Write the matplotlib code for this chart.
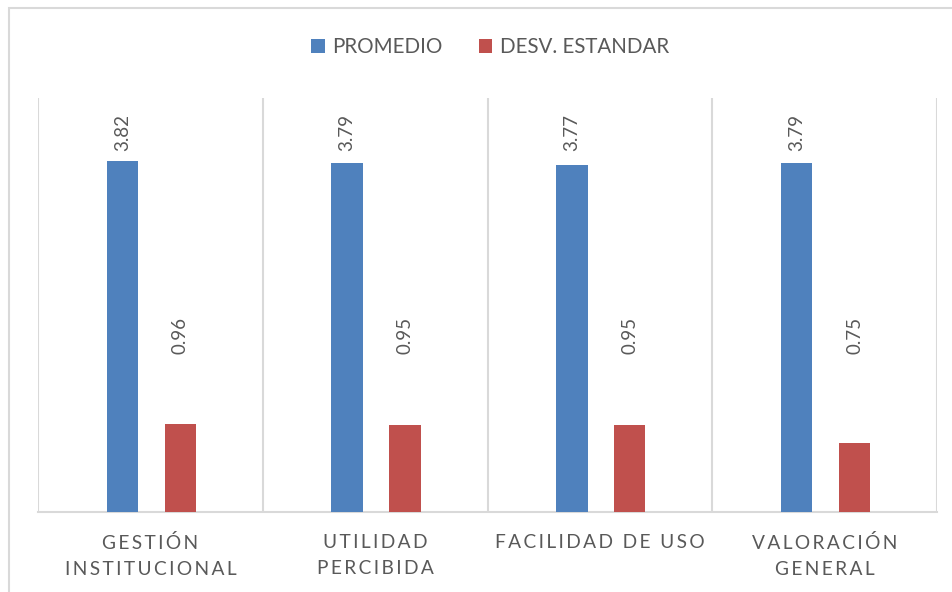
import matplotlib.pyplot as plt
import matplotlib.patches as mpatches
import numpy as np

plt.rcParams['font.family'] = ['Lato', 'DejaVu Sans']

# datos
categorias = ['GESTIÓN\nINSTITUCIONAL', 'UTILIDAD\nPERCIBIDA', 'FACILIDAD DE USO', 'VALORACIÓN\nGENERAL']
promedio = [3.82, 3.79, 3.77, 3.79]
desv = [0.96, 0.95, 0.95, 0.75]

azul = '#4f81bd'
rojo = '#c0504d'
gris = '#595959'
linea = '#d9d9d9'


def espaciar(txt):
    # espaciado entre letras como en el original (espacio fino)
    lineas = []
    for l in txt.split('\n'):
        palabras = ['\u2009'.join(p) for p in l.split(' ')]
        lineas.append('\u2009 \u2009'.join(palabras))
    return '\n'.join(lineas)


fig = plt.figure(figsize=(9.52, 5.92), dpi=100)
# marco del grafico
fig.patches.append(mpatches.Rectangle((9 / 952, -0.1), 1.1, 1 - 8 / 592 + 0.1, transform=fig.transFigure,
                                      facecolor='none', edgecolor=linea, linewidth=1.5))

ax = fig.add_axes([38 / 952, 80 / 592, 899 / 952, 414 / 592])
x = np.arange(len(categorias))
ax.bar(x - 0.125, promedio, width=0.14, color=azul, label='PROMEDIO', zorder=3)
ax.bar(x + 0.133, desv, width=0.14, color=rojo, label='DESV. ESTANDAR', zorder=3)

# etiquetas de datos
for i in range(len(categorias)):
    ax.text(x[i] - 0.125, 4.13, f'{promedio[i]:.2f}', rotation=90, ha='center', va='center',
            color=gris, fontsize=13.5)
    ax.text(x[i] + 0.133, 1.92, f'{desv[i]:.2f}', rotation=90, ha='center', va='center',
            color=gris, fontsize=13.5)

ax.set_xlim(-0.5, len(categorias) - 0.5)
ax.set_ylim(0, 4.5)
for b in np.arange(-0.5, len(categorias), 1):
    ax.axvline(b, color=linea, linewidth=1.5, zorder=1)
for s in ['top', 'right', 'left']:
    ax.spines[s].set_visible(False)
ax.spines['bottom'].set_color(linea)
ax.spines['bottom'].set_linewidth(1.5)
ax.set_yticks([])
ax.set_xticks(x)
ax.set_xticklabels([espaciar(c) for c in categorias], color=gris, fontsize=13.8, linespacing=1.65)
ax.tick_params(axis='x', length=0, pad=16)

fig.legend(loc='center', bbox_to_anchor=(490 / 952, 1 - 47 / 592), ncol=2, frameon=False,
           fontsize=14.8, labelcolor=gris, handlelength=0.65, handleheight=0.65,
           handletextpad=0.35, columnspacing=1.8)

plt.savefig('out.png', dpi=100)
